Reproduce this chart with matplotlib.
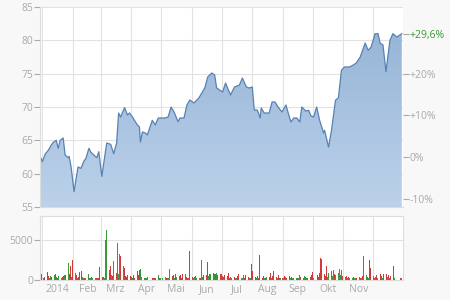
import numpy as np
import pandas as pd
import matplotlib
matplotlib.use("Agg")
import matplotlib.pyplot as plt
import matplotlib.dates as mdates
from matplotlib.colors import LinearSegmentedColormap

plt.rcParams['font.family'] = ['Open Sans', 'DejaVu Sans']

# Schlusskurse
kurs_datum = [
    '2013-12-30', '2014-01-01', '2014-01-04', '2014-01-07', '2014-01-10', '2014-01-12',
    '2014-01-15', '2014-01-17', '2014-01-19', '2014-01-22', '2014-01-24', '2014-01-27',
    '2014-01-28', '2014-01-30', '2014-02-02', '2014-02-04', '2014-02-06', '2014-02-09',
    '2014-02-12', '2014-02-14', '2014-02-17', '2014-02-19', '2014-02-22', '2014-02-25',
    '2014-02-27', '2014-03-02', '2014-03-04', '2014-03-07', '2014-03-11', '2014-03-14',
    '2014-03-17', '2014-03-19', '2014-03-21', '2014-03-25', '2014-03-28', '2014-03-30',
    '2014-04-02', '2014-04-04', '2014-04-07', '2014-04-09', '2014-04-10', '2014-04-12',
    '2014-04-15', '2014-04-17', '2014-04-22', '2014-04-25', '2014-04-28', '2014-05-05',
    '2014-05-08', '2014-05-11', '2014-05-14', '2014-05-18', '2014-05-20', '2014-05-24',
    '2014-05-27', '2014-05-30', '2014-06-03', '2014-06-08', '2014-06-14', '2014-06-17',
    '2014-06-21', '2014-06-24', '2014-06-26', '2014-06-29', '2014-07-02', '2014-07-05',
    '2014-07-07', '2014-07-10', '2014-07-14', '2014-07-19', '2014-07-22', '2014-07-26',
    '2014-07-29', '2014-08-01', '2014-08-03', '2014-08-06', '2014-08-09', '2014-08-10',
    '2014-08-13', '2014-08-18', '2014-08-21', '2014-08-24', '2014-08-27', '2014-08-31',
    '2014-09-04', '2014-09-06', '2014-09-09', '2014-09-12', '2014-09-15', '2014-09-18',
    '2014-09-20', '2014-09-24', '2014-09-27', '2014-09-29', '2014-10-02', '2014-10-05',
    '2014-10-08', '2014-10-12', '2014-10-13', '2014-10-17', '2014-10-20', '2014-10-24',
    '2014-10-27', '2014-10-30', '2014-11-02', '2014-11-07', '2014-11-11', '2014-11-14',
    '2014-11-18', '2014-11-23', '2014-11-26', '2014-11-29', '2014-12-03', '2014-12-06',
    '2014-12-08', '2014-12-11', '2014-12-14', '2014-12-18', '2014-12-21', '2014-12-25',
    '2014-12-30',
]
kurs = [
    62.5, 61.8, 63.0, 63.5, 64.3, 64.7,
    65.0, 63.8, 65.0, 65.35, 62.8, 62.4,
    62.6, 61.0, 57.3, 59.2, 61.0, 60.8,
    61.9, 62.3, 63.8, 63.2, 62.8, 62.4,
    63.3, 59.6, 61.6, 64.6, 64.4, 63.0,
    64.6, 69.1, 68.5, 69.9, 68.8, 69.1,
    68.5, 68.0, 67.3, 67.0, 64.75, 66.25,
    66.1, 65.8, 68.0, 67.3, 68.35, 68.35,
    68.5, 70.0, 69.25, 67.8, 68.35, 68.35,
    70.3, 71.05, 70.6, 71.35, 72.85, 74.5,
    75.1, 74.8, 72.85, 72.55, 72.25, 73.6,
    72.85, 71.8, 73.0, 73.3, 74.35, 73.0,
    72.85, 73.0, 69.55, 69.55, 68.35, 69.85,
    69.1, 69.1, 70.75, 70.75, 70.0, 69.25,
    70.3, 69.25, 67.75, 68.35, 68.35, 67.75,
    70.0, 69.4, 69.5, 68.7, 68.5, 70.0,
    68.0, 66.1, 66.5, 64.0, 66.5, 71.0,
    71.4, 75.5, 76.0, 76.0, 76.3, 76.6,
    77.5, 79.6, 78.5, 79.0, 81.0, 81.0,
    79.6, 79.3, 75.3, 80.0, 81.0, 80.5,
    81.0,
]

# Tagesumsatz je Handelstag (Woche fuer Woche), positiv = gruen, negativ = rot
umsatz = [
    -300, -750, 0, 250, -400,
    -1000, -500, 300, 500, -400,
    600, -800, 400, -300, 500,
    300, -400, -500, 600, -600,
    2100, -700, -1800, 400, -2550,
    900, -600, 300, -400, -1000,
    -1100, 400, 200, -300, 300,
    800, -300, 200, 400, 300,
    200, -300, 300, -200, -1650,
    -400, 400, 300, 5000, 6250,
    -1300, -1700, 600, -500, 2350,
    -900, 4600, 800, 3200, -3050,
    1700, -1500, -500, -400, -600,
    -500, -400, 300, -600, -300,
    -1100, -600, -1300, 1400, 400,
    300, -200, 200, 400, 0,
    0, -300, 200, -200, 300,
    600, -300, 200, 0, 300,
    400, -300, 200, 300, 1400,
    -500, -600, 300, -700, 400,
    -500, -600, 400, -300, -700,
    800, -400, 300, -300, -3600,
    -400, 300, 400, -500, 200,
    300, -300, 2450, 400, -600,
    -600, -2200, 500, -800, 700,
    -900, 800, -700, 900, -600,
    -800, 700, -500, 400, -600,
    -500, -900, 300, -400, 300,
    -400, 300, 200, -500, -700,
    300, 200, 600, -300, -600,
    -400, 300, 200, -2000, -1100,
    -400, 300, -500, -300, -3100,
    -300, -500, 200, -300, 400,
    -400, -900, 300, -500, -1100,
    -400, 300, -600, -300, 200,
    -300, 200, -500, 400, -300,
    -500, 300, -400, 200, -300,
    300, -200, 300, 600, -400,
    -300, 500, -400, 300, -300,
    -400, -600, -1000, 300, 0,
    -600, -400, -900, -2800, -2600,
    -700, -500, -1800, 400, 900,
    1100, 500, 1200, -700, 600,
    900, 1400, 600, 1300, -500,
    400, -500, 300, -400, 200,
    300, -400, 200, 300, -300,
    400, -300, 200, -500, 2950,
    600, -400, 300, -2550, -1500,
    500, -300, 400, -600, 300,
    -700, -500, 300, -600, -700,
    -700, 400, -600, 300, -500,
    -1800, 300, 0, 0, 0,
    -300, 200,
]

monate = ['2014', 'Feb', 'Mrz', 'Apr', 'Mai', 'Jun', 'Jul', 'Aug', 'Sep', 'Okt', 'Nov']
prozent_ticks = [-10, 0, 10, 20]

grau = '#aaaaaa'
gitter = '#e2e2e2'
linie = '#5682b3'
gruen = '#3a9a35'
rot = '#d03a3a'

x_kurs = pd.to_datetime(kurs_datum)
x_vol = pd.bdate_range('2013-12-30', '2014-12-30')
vol = np.array(umsatz)

basis = kurs[0]
x0 = mdates.date2num(pd.Timestamp('2013-12-30')) - 0.4
x1 = mdates.date2num(pd.Timestamp('2014-12-31')) + 0.2

fig = plt.figure(figsize=(4.5, 3), dpi=100, facecolor='#f8f8f8')
ax = fig.add_axes([40 / 450, 1 - 207 / 300, 363 / 450, 200 / 300])
axv = fig.add_axes([40 / 450, 1 - 280 / 300, 363 / 450, 64 / 300])

monatsanfang = pd.date_range('2014-01-01', '2014-12-01', freq='MS')
monatsmitte = pd.date_range('2014-01-01', '2014-11-01', freq='MS') + pd.Timedelta(days=15)

for a in (ax, axv):
    a.set_facecolor('white')
    a.set_xlim(x0, x1)
    a.set_xticks(monatsanfang)
    a.grid(True, color=gitter, lw=0.8)
    a.set_axisbelow(True)
    for s in a.spines.values():
        s.set_color('#dddddd')
        s.set_linewidth(0.8)
    a.tick_params(axis='x', which='major', length=0, labelbottom=False)
    a.tick_params(axis='y', colors=grau, labelsize=7.5, length=4, width=0.8, pad=1)

# Kurs mit Verlaufsfuellung
ax.set_ylim(55, 85)
ax.set_yticks([55, 60, 65, 70, 75, 80, 85])
poly = ax.fill_between(x_kurs, kurs, 55, color='none', lw=0)
cmap = LinearSegmentedColormap.from_list('blau', ['#bcd2ea', '#96b4d7'])
grad = np.linspace(0, 1, 256).reshape(-1, 1)
img = ax.imshow(grad, cmap=cmap, aspect='auto', origin='lower',
                extent=[mdates.date2num(x_kurs[0]), mdates.date2num(x_kurs[-1]), 55, 82],
                zorder=1)
img.set_clip_path(poly.get_paths()[0], transform=ax.transData)
ax.plot(x_kurs, kurs, color=linie, lw=0.9, zorder=2)
ax.set_xlim(x0, x1)
ax.spines['top'].set_visible(False)
ax.spines['right'].set_visible(False)

# rechte Achse in Prozent
ax2 = ax.twinx()
ax2.set_ylim((55 / basis - 1) * 100, (85 / basis - 1) * 100)
letzte = (kurs[-1] / basis - 1) * 100
ax2.set_yticks(prozent_ticks + [letzte])
ax2.set_yticklabels(['-10%', '0%', '+10%', '+20%', ('%+.1f%%' % letzte).replace('.', ',')])
ax2.tick_params(axis='y', colors=grau, labelsize=7.5, length=4, width=0.8, pad=1)
ax2.get_yticklabels()[-1].set_color(gruen)
ax2.yaxis.get_major_ticks()[-1].tick2line.set_color(gruen)
for s in ax2.spines.values():
    s.set_visible(False)

# Umsatz
farben = [gruen if v > 0 else rot for v in vol]
axv.bar(x_vol, np.abs(vol), width=1.0, color=farben, lw=0)
axv.set_ylim(0, 8000)
axv.set_yticks([0, 5000])
axv.set_xticks(monatsmitte, minor=True)
axv.set_xticklabels(monate, minor=True)
axv.tick_params(axis='x', which='minor', length=0, colors=grau, labelsize=7.5, pad=3)
axv.grid(False, which='minor')

fig.savefig('out.png', dpi=100, facecolor=fig.get_facecolor())
